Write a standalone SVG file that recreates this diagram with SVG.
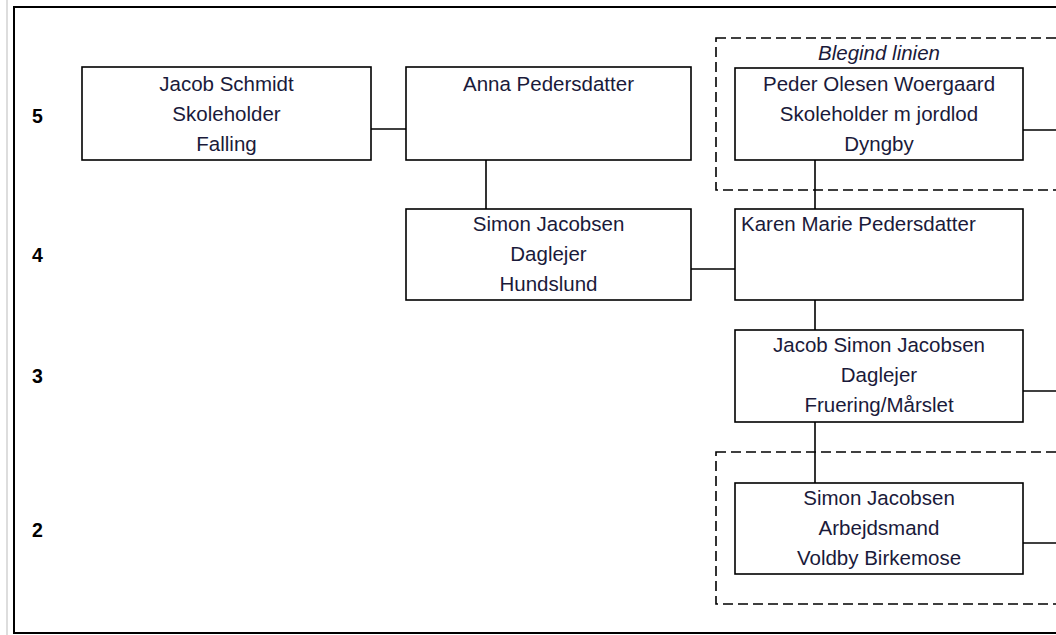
<svg xmlns="http://www.w3.org/2000/svg" width="1056" height="635" viewBox="0 0 1056 635">
<style>
.box{fill:#fff;stroke:#000;stroke-width:1.6}
.dash{fill:none;stroke:#000;stroke-width:1.6;stroke-dasharray:10 5}
.t{font-family:"Liberation Sans",Arial,sans-serif;font-size:20.5px;fill:#1a1a3a;text-anchor:middle}
.l{text-anchor:start}
.g{font-family:"Liberation Sans",Arial,sans-serif;font-size:19.5px;font-weight:bold;fill:#000}
.i{font-style:italic}
.c{fill:none;stroke:#000;stroke-width:1.6}
</style>
<rect width="1056" height="635" fill="#fff"/>
<line x1="7" y1="0" x2="7" y2="635" stroke="#bbb" stroke-width="1"/>
<rect x="14" y="7" width="1060" height="626" fill="none" stroke="#000" stroke-width="2"/>
<g id="generations">
<text class="g" x="32" y="123">5</text>
<text class="g" x="32" y="262">4</text>
<text class="g" x="32" y="383">3</text>
<text class="g" x="32" y="537">2</text>
</g>
<g id="group-blegind">
<rect class="dash" x="716" y="38" width="360" height="152"/>
<text class="t i" x="879" y="60">Blegind linien</text>
</g>
<g id="group-bottom">
<rect class="dash" x="716" y="452" width="360" height="152"/>
</g>
<g id="connectors">
<line class="c" x1="371" y1="129" x2="406" y2="129"/>
<line class="c" x1="486" y1="160" x2="486" y2="209"/>
<line class="c" x1="815" y1="160" x2="815" y2="209"/>
<line class="c" x1="691" y1="269" x2="735" y2="269"/>
<line class="c" x1="815" y1="300" x2="815" y2="330"/>
<line class="c" x1="815" y1="422" x2="815" y2="483"/>
<line class="c" x1="1023" y1="130" x2="1056" y2="130"/>
<line class="c" x1="1023" y1="391" x2="1056" y2="391"/>
<line class="c" x1="1023" y1="543" x2="1056" y2="543"/>
</g>
<g id="jacob-schmidt">
<rect class="box" x="82" y="67" width="289" height="93"/>
<text class="t" x="226.5" y="91">Jacob Schmidt</text>
<text class="t" x="226.5" y="121">Skoleholder</text>
<text class="t" x="226.5" y="151">Falling</text>
</g>
<g id="anna-pedersdatter">
<rect class="box" x="406" y="67" width="285" height="93"/>
<text class="t" x="548.5" y="91">Anna Pedersdatter</text>
</g>
<g id="peder-olesen">
<rect class="box" x="735" y="68" width="288" height="92"/>
<text class="t" x="879" y="91">Peder Olesen Woergaard</text>
<text class="t" x="879" y="121">Skoleholder m jordlod</text>
<text class="t" x="879" y="151">Dyngby</text>
</g>
<g id="simon-jacobsen-daglejer">
<rect class="box" x="406" y="209" width="285" height="91"/>
<text class="t" x="548.5" y="231">Simon Jacobsen</text>
<text class="t" x="548.5" y="261">Daglejer</text>
<text class="t" x="548.5" y="291">Hundslund</text>
</g>
<g id="karen-marie">
<rect class="box" x="735" y="209" width="288" height="91"/>
<text class="t l" x="741" y="231">Karen Marie Pedersdatter</text>
</g>
<g id="jacob-simon-jacobsen">
<rect class="box" x="735" y="330" width="288" height="92"/>
<text class="t" x="879" y="352">Jacob Simon Jacobsen</text>
<text class="t" x="879" y="382">Daglejer</text>
<text class="t" x="879" y="412">Fruering/Mårslet</text>
</g>
<g id="simon-jacobsen-arbejdsmand">
<rect class="box" x="735" y="483" width="288" height="91"/>
<text class="t" x="879" y="505">Simon Jacobsen</text>
<text class="t" x="879" y="535">Arbejdsmand</text>
<text class="t" x="879" y="565">Voldby Birkemose</text>
</g>
</svg>
